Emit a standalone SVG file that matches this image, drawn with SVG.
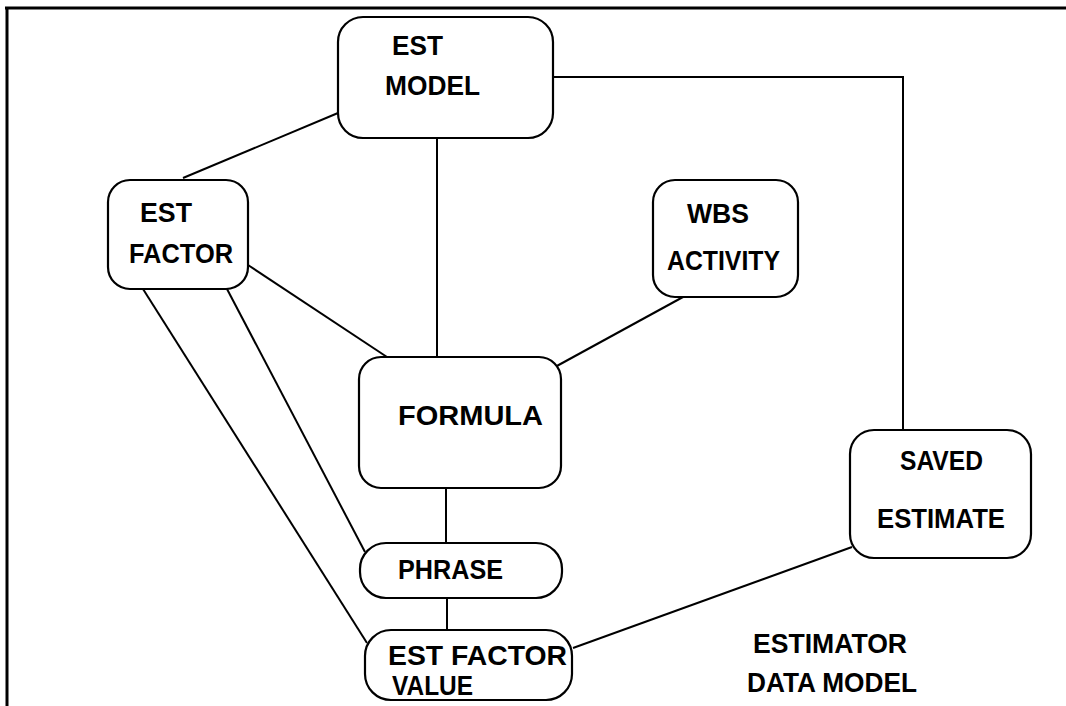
<svg xmlns="http://www.w3.org/2000/svg" width="1066" height="706" viewBox="0 0 1066 706">
<style>
.box{fill:#fff;stroke:#000;stroke-width:2.2}
.ln{fill:none;stroke:#000;stroke-width:2}
text{font-family:"Liberation Sans",Arial,sans-serif;font-weight:bold;font-size:27px;fill:#000}
</style>
<rect width="1066" height="706" fill="#fff"/>
<g id="frame">
<line x1="5" y1="8" x2="1066" y2="8" stroke="#000" stroke-width="3"/>
<line x1="7" y1="8" x2="7" y2="706" stroke="#000" stroke-width="3"/>
</g>
<g id="connectors">
<line class="ln" x1="338" y1="113" x2="183" y2="178"/>
<line class="ln" x1="437" y1="138" x2="437" y2="357"/>
<polyline class="ln" points="553,77 903,77 903,430"/>
<line class="ln" x1="248" y1="265" x2="387" y2="357"/>
<line class="ln" x1="683" y1="297" x2="555" y2="367"/>
<line class="ln" x1="143" y1="289" x2="367" y2="643"/>
<line class="ln" x1="227" y1="289" x2="365" y2="552"/>
<line class="ln" x1="446" y1="488" x2="446" y2="543"/>
<line class="ln" x1="447" y1="598" x2="447" y2="630"/>
<line class="ln" x1="852" y1="547" x2="573" y2="648"/>
</g>
<g id="est-model">
<rect class="box" x="338" y="17" width="215" height="121" rx="25"/>
<text x="392" y="55" textLength="51" lengthAdjust="spacingAndGlyphs">EST</text>
<text x="385" y="95" textLength="95" lengthAdjust="spacingAndGlyphs">MODEL</text>
</g>
<g id="est-factor">
<rect class="box" x="108" y="180" width="140" height="109" rx="22"/>
<text x="140" y="222" textLength="52" lengthAdjust="spacingAndGlyphs">EST</text>
<text x="129" y="263" textLength="104" lengthAdjust="spacingAndGlyphs">FACTOR</text>
</g>
<g id="wbs-activity">
<rect class="box" x="653" y="180" width="145" height="117" rx="22"/>
<text x="687" y="223" textLength="62" lengthAdjust="spacingAndGlyphs">WBS</text>
<text x="667" y="270" textLength="113" lengthAdjust="spacingAndGlyphs">ACTIVITY</text>
</g>
<g id="formula">
<rect class="box" x="359" y="357" width="202" height="131" rx="22"/>
<text x="398" y="425" textLength="145" lengthAdjust="spacingAndGlyphs">FORMULA</text>
</g>
<g id="phrase">
<rect class="box" x="360" y="543" width="202" height="55" rx="26"/>
<text x="398" y="579" textLength="105" lengthAdjust="spacingAndGlyphs">PHRASE</text>
</g>
<g id="est-factor-value">
<rect class="box" x="365" y="630" width="207" height="70" rx="26"/>
<text x="388" y="665" textLength="179" lengthAdjust="spacingAndGlyphs">EST FACTOR</text>
<text x="392" y="695" textLength="81" lengthAdjust="spacingAndGlyphs">VALUE</text>
</g>
<g id="saved-estimate">
<rect class="box" x="850" y="430" width="181" height="128" rx="24"/>
<text x="900" y="470" textLength="83" lengthAdjust="spacingAndGlyphs">SAVED</text>
<text x="877" y="528" textLength="128" lengthAdjust="spacingAndGlyphs">ESTIMATE</text>
</g>
<g id="title">
<text x="753" y="653" textLength="154" lengthAdjust="spacingAndGlyphs">ESTIMATOR</text>
<text x="747" y="692" textLength="170" lengthAdjust="spacingAndGlyphs">DATA MODEL</text>
</g>
</svg>
